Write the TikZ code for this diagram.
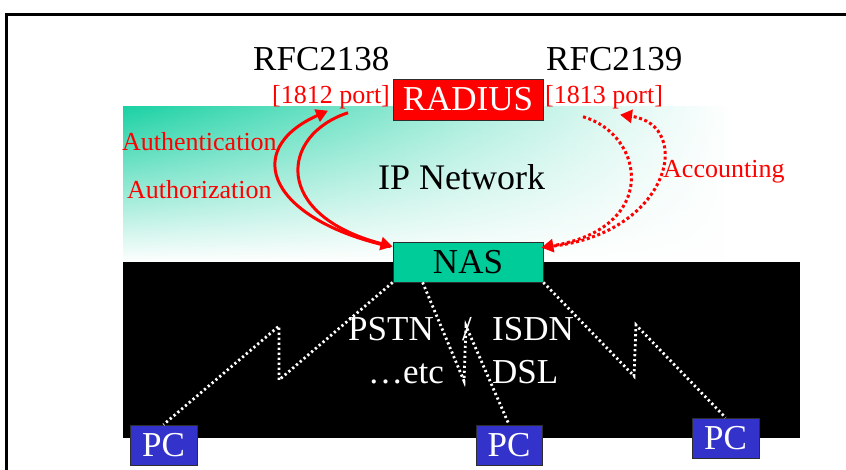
\documentclass[tikz,border=0pt]{standalone}
\usepackage{fontspec}
\setmainfont{Liberation Serif}
\usetikzlibrary{arrows.meta,fadings}

\definecolor{radiusred}{RGB}{255,0,0}
\definecolor{nasgreen}{RGB}{0,204,153}
\definecolor{pcblue}{RGB}{51,51,204}
\definecolor{boxedge}{RGB}{45,45,45}

% teal wash of the IP network, fading out to the right
\pgfdeclarehorizontalshading{ipnet}{100bp}{%
  color(0bp)=(nasgreen!90!white);
  color(25bp)=(nasgreen!90!white);
  color(38bp)=(nasgreen!62!white);
  color(50bp)=(nasgreen!35!white);
  color(62bp)=(nasgreen!12!white);
  color(70bp)=(white);
  color(100bp)=(white)}

\tikzset{
  bigtext/.style={font=\fontsize{35}{40}\selectfont, inner sep=0pt, anchor=base west},
  redlabel/.style={font=\fontsize{26}{30}\selectfont, text=radiusred, inner sep=0pt, anchor=base west},
  whitetext/.style={bigtext, text=white},
  boxnode/.style={draw=boxedge, line width=0.8pt, inner sep=0pt,
    font=\fontsize{35}{40}\selectfont},
  pcbox/.style={boxnode, fill=pcblue, text=white, minimum width=67pt, minimum height=40pt},
  authflow/.style={draw=radiusred, line width=3pt, -{Triangle[length=12pt,width=13pt]}},
  acctflow/.style={draw=radiusred, line width=3pt, dash pattern=on 3pt off 2.6pt,
    -{Triangle[length=12pt,width=13pt]}},
  dialup/.style={draw=white, line width=2.8pt, dash pattern=on 2.2pt off 2.8pt},
}

\begin{document}
\begin{tikzpicture}[x=1pt,y=-1pt]
\useasboundingbox (0,0) rectangle (846,469);
\clip (0,0) rectangle (846,469);

% outer frame
\draw[line width=3pt] (6,14) rectangle (880,500);

% IP network area
\shade[shading=ipnet] (123,106) rectangle (800,262);
\fill[white, path fading=north] (123,106) rectangle (800,262);

% access network area
\fill[black] (123,262) rectangle (800,438);

% headings
\node[bigtext] (rfc38) at (253,70) {RFC2138};
\node[bigtext] (rfc39) at (546,70) {RFC2139};

% servers and clients
\node[boxnode, fill=radiusred, text=white, minimum width=150pt, minimum height=41pt]
  (radius) at (468,99.5) {RADIUS};
\node[boxnode, fill=nasgreen, text=black, minimum width=150pt, minimum height=40pt]
  (nas) at (468,262) {NAS};
\node[pcbox] (pcL) at (163.5,445) {PC};
\node[pcbox, minimum width=66pt] (pcM) at (509,445) {PC};
\node[pcbox] (pcR) at (725.5,438) {PC};

% port labels
\node[redlabel] (port12) at (272,103) {[1812 port]};
\node[redlabel] (port13) at (545,103) {[1813 port]};

% network labels
\node[bigtext, font=\fontsize{36}{40}\selectfont] (ipnet) at (378,189) {IP Network};
\node[redlabel] (authn) at (122,150) {Authentication};
\node[redlabel] (authz) at (127,198) {Authorization};
\node[redlabel] (acct) at (663,177) {Accounting};

% access network labels
\node[whitetext] (pstn) at (348,340) {PSTN};
\node[whitetext] (slash) at (462,340) {/};
\node[whitetext] (isdn) at (492,340) {ISDN};
\node[whitetext] (etc) at (368,383) {…etc};
\node[whitetext] (dsl) at (492,383) {DSL};

% dial-up links (dotted zigzags)
\draw[dialup] (nas.south west) -- (279,380) -- (279,326) -- (pcL.north);
\draw[dialup] ([xshift=30pt]nas.south west) -- (464,381) -- (466,326) -- (pcM.north);
\draw[dialup] (nas.south east) -- (634,376) -- (636,325) -- (pcR.north);

% authentication / authorization exchange
\draw[authflow] ([shift={(-2,5)}]nas.north west)
  .. controls (270,220) and (240,150) .. ([shift={(-3,2)}]port12.south);
\draw[authflow] ([shift={(17,4)}]port12.south)
  .. controls (280,135) and (272,215) .. ([shift={(0,5)}]nas.north west);

% accounting exchange
\draw[acctflow] ([shift={(-21,8)}]port13.south)
  .. controls (645,135) and (660,228) .. ([shift={(-2,6)}]nas.north east);
\draw[acctflow] ([shift={(5,5)}]nas.north east)
  .. controls (670,235) and (695,125) .. ([shift={(16,6)}]port13.south);
\end{tikzpicture}
\end{document}
